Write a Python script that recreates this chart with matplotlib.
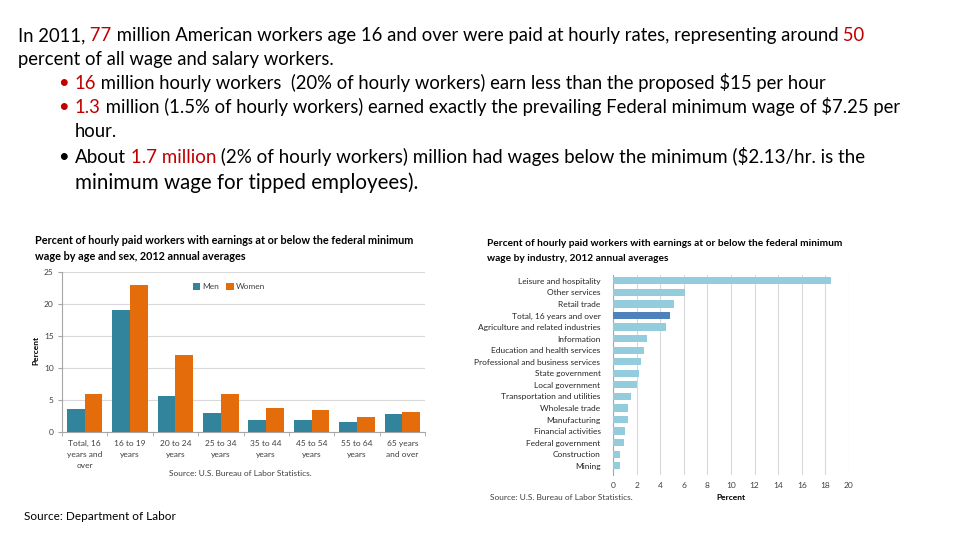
import numpy as np
import matplotlib
matplotlib.use("Agg")
import matplotlib.pyplot as plt

plt.rcParams['font.family'] = ['Lato', 'DejaVu Sans']

RED = '#C00000'
TXT = '#000000'

# --- data: age/sex chart ---
age_groups = ["Total, 16\nyears and\nover", "16 to 19\nyears", "20 to 24\nyears",
              "25 to 34\nyears", "35 to 44\nyears", "45 to 54\nyears",
              "55 to 64\nyears", "65 years\nand over"]
men = [3.6, 19.0, 5.6, 2.9, 1.8, 1.8, 1.5, 2.8]
women = [6.0, 22.9, 12.0, 5.9, 3.7, 3.4, 2.3, 3.2]

# --- data: industry chart ---
industries = ["Leisure and hospitality", "Other services", "Retail trade",
              "Total, 16 years and over", "Agriculture and related industries",
              "Information", "Education and health services",
              "Professional and business services", "State government",
              "Local government", "Transportation and utilities",
              "Wholesale trade", "Manufacturing", "Financial activities",
              "Federal government", "Construction", "Mining"]
ind_pct = [18.5, 6.1, 5.2, 4.8, 4.5, 2.9, 2.6, 2.4, 2.2, 2.0, 1.5, 1.3, 1.3,
           1.0, 0.9, 0.6, 0.6]

W, H = 960, 540
fig = plt.figure(figsize=(9.6, 5.4), dpi=100)
renderer = fig.canvas.get_renderer()


def runs(x, y, parts, size):
    """draw colored text pieces one after another on a line (pixel coords)"""
    cx = x / W
    for s, c in parts:
        t = fig.text(cx, 1 - y / H, s, color=c, fontsize=size, va='baseline', ha='left')
        bb = t.get_window_extent(renderer=renderer)
        cx = bb.x1 / W


FS = 13.35
runs(18, 41, [("In 2011,", TXT), (" 77", RED),
              (" million American workers age 16 and over were paid at hourly rates, representing around", TXT),
              (" 50", RED)], FS)
runs(18, 65, [("percent of all wage and salary workers.", TXT)], FS)
for yy, c in [(89, RED), (113, RED), (163, TXT)]:
    fig.text(58 / W, 1 - yy / H, "\u2022", color=c, fontsize=FS, va='baseline')
runs(75, 89, [("16", RED), (" million hourly workers  (20% of hourly workers) earn less than the proposed $15 per hour", TXT)], FS)
runs(75, 113, [("1.3", RED), (" million (1.5% of hourly workers) earned exactly the prevailing Federal minimum wage of $7.25 per", TXT)], FS)
runs(75, 137, [("hour.", TXT)], FS)
runs(75, 163, [("About", TXT), (" 1.7 million", RED), (" (2% of hourly workers) million had wages below the minimum ($2.13/hr. is the", TXT)], 13.5)
runs(75, 189, [("minimum wage for tipped employees).", TXT)], 14.8)

# ---------------- left chart ----------------
GRID = '#D9D9D9'
SMALL = 6.0
ax1 = fig.add_axes([62 / W, 1 - 432 / H, 363 / W, 160 / H])
x = np.arange(len(age_groups))
bw = 0.39
ax1.bar(x - bw / 2, men, bw, color='#31849B', label='Men', zorder=3)
ax1.bar(x + bw / 2, women, bw, color='#E46C0A', label='Women', zorder=3)
ax1.set_xlim(-0.5, len(age_groups) - 0.5)
ax1.set_ylim(0, 25)
ax1.set_yticks(np.arange(0, 26, 5))
ax1.yaxis.grid(True, color=GRID, lw=0.8, zorder=0)
ax1.set_xticks(x)
ax1.set_xticklabels(age_groups, fontsize=SMALL, color='#404040', linespacing=1.6, va='top')
ax1.set_xticks(np.arange(-0.5, len(age_groups), 1), minor=True)
ax1.tick_params(axis='x', which='major', length=0, pad=6)
ax1.tick_params(axis='x', which='minor', length=3, color='#A6A6A6')
ax1.tick_params(axis='y', length=3, color='#A6A6A6', labelsize=SMALL, labelcolor='#404040', pad=3)
for s in ['top', 'right']:
    ax1.spines[s].set_visible(False)
for s in ['left', 'bottom']:
    ax1.spines[s].set_color('#A6A6A6')
    ax1.spines[s].set_linewidth(0.8)
ax1.legend(loc='upper center', bbox_to_anchor=(0.46, 0.98), ncol=2, frameon=False,
           fontsize=SMALL, handlelength=0.9, handleheight=0.9, columnspacing=0.8,
           handletextpad=0.3, labelcolor='#404040')
fig.text(35 / W, 1 - 241 / H, "Percent of hourly paid workers with earnings at or below the federal minimum",
         fontsize=7.8, fontweight='bold', va='center')
fig.text(35 / W, 1 - 256 / H, "wage by age and sex, 2012 annual averages",
         fontsize=7.8, fontweight='bold', va='center')
fig.text(36 / W, 1 - 350 / H, "Percent", rotation=90, fontsize=SMALL, fontweight='bold',
         va='center', ha='center')
fig.text(240 / W, 1 - 473 / H, "Source: U.S. Bureau of Labor Statistics.", fontsize=SMALL,
         ha='center', va='center', color='#404040')

# ---------------- right chart ----------------
ax2 = fig.add_axes([613 / W, 1 - 475 / H, 236 / W, 200 / H])
yy = np.arange(len(industries))
cols = ['#4F81BD' if n.startswith('Total') else '#93CDDD' for n in industries]
ax2.barh(yy, ind_pct, height=0.63, color=cols, zorder=3)
ax2.set_ylim(len(industries) - 0.2, -0.5)
ax2.set_xlim(0, 20)
ax2.set_xticks(np.arange(0, 21, 2))
ax2.set_yticks(yy)
ax2.set_yticklabels(industries, fontsize=SMALL, color='#262626')
ax2.xaxis.grid(True, color=GRID, lw=0.8, zorder=0)
ax2.tick_params(axis='y', length=0, pad=9)
ax2.tick_params(axis='x', length=0, labelsize=SMALL, labelcolor='#404040', pad=5)
for s in ['top', 'right', 'bottom']:
    ax2.spines[s].set_visible(False)
ax2.spines['left'].set_color('#A6A6A6')
ax2.spines['left'].set_linewidth(0.8)
fig.text(487 / W, 1 - 244 / H, "Percent of hourly paid workers with earnings at or below the federal minimum",
         fontsize=7.3, fontweight='bold', va='center')
fig.text(487 / W, 1 - 258 / H, "wage by industry, 2012 annual averages",
         fontsize=7.3, fontweight='bold', va='center')
fig.text(731 / W, 1 - 497 / H, "Percent", fontsize=SMALL, fontweight='bold', ha='center', va='center')
fig.text(490 / W, 1 - 497 / H, "Source: U.S. Bureau of Labor Statistics.", fontsize=SMALL,
         va='center', color='#404040')

fig.text(24 / W, 1 - 517 / H, "Source: Department of Labor", fontsize=8.5, va='center')

fig.savefig("out.png", dpi=100)
